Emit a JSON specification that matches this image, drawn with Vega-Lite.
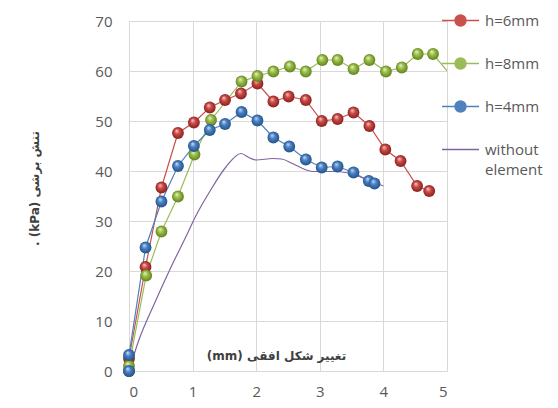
{
  "$schema": "https://vega.github.io/schema/vega-lite/v6.json",
  "width": 318,
  "height": 350,
  "autosize": {"type": "none"},
  "padding": {"left": 129, "top": 21, "right": 111, "bottom": 37},
  "background": "white",
  "config": {
    "view": {"stroke": null},
    "font": "Open Sans",
    "axis": {
      "grid": true,
      "gridColor": "#d9d9d9",
      "gridWidth": 1,
      "ticks": false,
      "labelFont": "Open Sans",
      "labelFontSize": 15,
      "labelColor": "#595959",
      "titleFont": "DejaVu Sans",
      "titleFontSize": 12,
      "titleFontWeight": "bold",
      "titleColor": "#404040"
    }
  },
  "data": {
    "values": [
      {"s": "h=6mm", "i": 0, "x": 0, "y": 0},
      {"s": "h=6mm", "i": 1, "x": 0, "y": 2.5},
      {"s": "h=6mm", "i": 2, "x": 0.26, "y": 20.8},
      {"s": "h=6mm", "i": 3, "x": 0.51, "y": 36.7},
      {"s": "h=6mm", "i": 4, "x": 0.77, "y": 47.6},
      {"s": "h=6mm", "i": 5, "x": 1.02, "y": 49.7},
      {"s": "h=6mm", "i": 6, "x": 1.27, "y": 52.7},
      {"s": "h=6mm", "i": 7, "x": 1.51, "y": 54.2},
      {"s": "h=6mm", "i": 8, "x": 1.76, "y": 55.5},
      {"s": "h=6mm", "i": 9, "x": 2.02, "y": 57.5},
      {"s": "h=6mm", "i": 10, "x": 2.27, "y": 53.9},
      {"s": "h=6mm", "i": 11, "x": 2.51, "y": 54.9},
      {"s": "h=6mm", "i": 12, "x": 2.78, "y": 54.2},
      {"s": "h=6mm", "i": 13, "x": 3.03, "y": 50.0},
      {"s": "h=6mm", "i": 14, "x": 3.28, "y": 50.4},
      {"s": "h=6mm", "i": 15, "x": 3.53, "y": 51.7},
      {"s": "h=6mm", "i": 16, "x": 3.78, "y": 49.0},
      {"s": "h=6mm", "i": 17, "x": 4.03, "y": 44.3},
      {"s": "h=6mm", "i": 18, "x": 4.27, "y": 42.0},
      {"s": "h=6mm", "i": 19, "x": 4.53, "y": 37.0},
      {"s": "h=6mm", "i": 20, "x": 4.72, "y": 36.0},
      {"s": "h=8mm", "i": 0, "x": 0, "y": 0},
      {"s": "h=8mm", "i": 1, "x": 0, "y": 1.0},
      {"s": "h=8mm", "i": 2, "x": 0.27, "y": 19.1},
      {"s": "h=8mm", "i": 3, "x": 0.51, "y": 27.9},
      {"s": "h=8mm", "i": 4, "x": 0.77, "y": 34.9},
      {"s": "h=8mm", "i": 5, "x": 1.03, "y": 43.3},
      {"s": "h=8mm", "i": 6, "x": 1.29, "y": 50.2},
      {"s": "h=8mm", "i": 7, "x": 1.77, "y": 57.9},
      {"s": "h=8mm", "i": 8, "x": 2.02, "y": 59.0},
      {"s": "h=8mm", "i": 9, "x": 2.27, "y": 59.9},
      {"s": "h=8mm", "i": 10, "x": 2.53, "y": 60.9},
      {"s": "h=8mm", "i": 11, "x": 2.78, "y": 59.9},
      {"s": "h=8mm", "i": 12, "x": 3.04, "y": 62.2},
      {"s": "h=8mm", "i": 13, "x": 3.28, "y": 62.2},
      {"s": "h=8mm", "i": 14, "x": 3.53, "y": 60.4},
      {"s": "h=8mm", "i": 15, "x": 3.78, "y": 62.2},
      {"s": "h=8mm", "i": 16, "x": 4.04, "y": 59.9},
      {"s": "h=8mm", "i": 17, "x": 4.29, "y": 60.7},
      {"s": "h=8mm", "i": 18, "x": 4.54, "y": 63.4},
      {"s": "h=8mm", "i": 19, "x": 4.78, "y": 63.4},
      {"s": "h=8mm", "i": 20, "x": 5.2, "y": 57.0},
      {"s": "h=4mm", "i": 0, "x": 0, "y": 0},
      {"s": "h=4mm", "i": 1, "x": 0, "y": 3.2},
      {"s": "h=4mm", "i": 2, "x": 0.26, "y": 24.7},
      {"s": "h=4mm", "i": 3, "x": 0.51, "y": 33.9},
      {"s": "h=4mm", "i": 4, "x": 0.77, "y": 41.0},
      {"s": "h=4mm", "i": 5, "x": 1.02, "y": 45.0},
      {"s": "h=4mm", "i": 6, "x": 1.27, "y": 48.2},
      {"s": "h=4mm", "i": 7, "x": 1.51, "y": 49.4},
      {"s": "h=4mm", "i": 8, "x": 1.77, "y": 51.8},
      {"s": "h=4mm", "i": 9, "x": 2.02, "y": 50.1},
      {"s": "h=4mm", "i": 10, "x": 2.27, "y": 46.7},
      {"s": "h=4mm", "i": 11, "x": 2.52, "y": 44.9},
      {"s": "h=4mm", "i": 12, "x": 2.78, "y": 42.3},
      {"s": "h=4mm", "i": 13, "x": 3.03, "y": 40.7},
      {"s": "h=4mm", "i": 14, "x": 3.28, "y": 40.9},
      {"s": "h=4mm", "i": 15, "x": 3.53, "y": 39.7},
      {"s": "h=4mm", "i": 16, "x": 3.77, "y": 38.0},
      {"s": "h=4mm", "i": 17, "x": 3.86, "y": 37.5},
      {"s": "without element", "i": 0, "x": 0, "y": 0},
      {"s": "without element", "i": 1, "x": 0.15, "y": 6.0},
      {"s": "without element", "i": 2, "x": 0.4, "y": 13.5},
      {"s": "without element", "i": 3, "x": 0.65, "y": 20.5},
      {"s": "without element", "i": 4, "x": 0.9, "y": 27.0},
      {"s": "without element", "i": 5, "x": 1.05, "y": 31.0},
      {"s": "without element", "i": 6, "x": 1.27, "y": 35.9},
      {"s": "without element", "i": 7, "x": 1.53, "y": 40.9},
      {"s": "without element", "i": 8, "x": 1.76, "y": 43.5},
      {"s": "without element", "i": 9, "x": 1.9, "y": 42.6},
      {"s": "without element", "i": 10, "x": 2.0, "y": 42.2},
      {"s": "without element", "i": 11, "x": 2.26, "y": 42.5},
      {"s": "without element", "i": 12, "x": 2.4, "y": 42.4},
      {"s": "without element", "i": 13, "x": 2.57, "y": 41.5},
      {"s": "without element", "i": 14, "x": 2.75, "y": 40.4},
      {"s": "without element", "i": 15, "x": 2.9, "y": 39.9},
      {"s": "without element", "i": 16, "x": 3.2, "y": 39.9},
      {"s": "without element", "i": 17, "x": 3.45, "y": 39.6},
      {"s": "without element", "i": 18, "x": 3.62, "y": 38.9},
      {"s": "without element", "i": 19, "x": 3.8, "y": 38.0},
      {"s": "without element", "i": 20, "x": 4.0, "y": 37.0}
    ]
  },
  "encoding": {
    "x": {
      "field": "x",
      "type": "quantitative",
      "scale": {"domain": [0, 5], "nice": false},
      "axis": {
        "values": [0, 1, 2, 3, 4, 5],
        "domain": true,
        "domainColor": "#d9d9d9",
        "labelPadding": 13,
        "title": "(mm) تغییر شکل افقی",
        "titleX": 147,
        "titleY": -16,
        "titleAlign": "center",
        "titleBaseline": "middle"
      }
    },
    "y": {
      "field": "y",
      "type": "quantitative",
      "scale": {"domain": [0, 70], "nice": false},
      "axis": {
        "values": [0, 10, 20, 30, 40, 50, 60, 70],
        "domain": false,
        "labelPadding": 17,
        "title": ". (kPa) تنش برشی",
        "titleAngle": -90,
        "titleX": -95,
        "titleY": 167,
        "titleAlign": "center",
        "titleBaseline": "middle"
      }
    }
  },
  "layer": [
    {
      "transform": [{"filter": "datum.s != 'without element'"}],
      "mark": {"type": "line", "strokeWidth": 1.2, "clip": true},
      "encoding": {
        "color": {
          "field": "s",
          "type": "nominal",
          "scale": {
            "domain": ["h=6mm", "h=8mm", "h=4mm", "without element"],
            "range": ["#c9504c", "#9bbb59", "#4f81bd", "#8064a2"]
          },
          "legend": {
            "title": null,
            "orient": "none",
            "legendX": 312,
            "legendY": -20,
            "symbolSize": 1369,
            "symbolType": "M-1,0H1M-0.3,0A0.3,0.3,0,1,0,0.3,0A0.3,0.3,0,1,0,-0.3,0Z",
            "symbolStrokeWidth": 1.3,
            "labelFont": "Open Sans",
            "labelFontSize": 15,
            "labelColor": "#595959",
            "labelOffset": 5,
            "labelLimit": 200,
            "rowPadding": 15,
            "labelExpr": "datum.label == 'without element' ? ['without', 'element'] : datum.label",
            "encode": {
              "symbols": {
                "update": {
                  "shape": {"signal": "datum.value == 'without element' ? 'M-1,0H1' : 'M-1,0H1M-0.3,0A0.3,0.3,0,1,0,0.3,0A0.3,0.3,0,1,0,-0.3,0Z'"},
                  "fill": {"signal": "datum.value == 'without element' ? 'transparent' : scale('color', datum.value)"},
                  "stroke": {"signal": "scale('color', datum.value)"},
                  "opacity": {"value": 1}
                }
              },
              "labels": {
                "update": {
                  "lineHeight": {"value": 20}
                }
              }
            }
          }
        },
        "order": {"field": "i", "type": "quantitative"}
      }
    },
    {
      "transform": [{"filter": "datum.s == 'without element'"}],
      "mark": {"type": "line", "strokeWidth": 1.2, "interpolate": "monotone"},
      "encoding": {
        "color": {"field": "s", "type": "nominal"},
        "order": {"field": "i", "type": "quantitative"}
      }
    },
    {
      "transform": [{"filter": "datum.s == 'h=6mm'"}],
      "mark": {
        "type": "circle",
        "size": 140,
        "opacity": 1,
        "strokeWidth": 0,
        "fill": {
          "gradient": "radial",
          "x1": 0.38, "y1": 0.3, "r1": 0,
          "x2": 0.5, "y2": 0.5, "r2": 0.55,
          "stops": [
            {"offset": 0, "color": "#f7d0ce"},
            {"offset": 0.4, "color": "#cc4a46"},
            {"offset": 1, "color": "#7e1d1a"}
          ]
        }
      }
    },
    {
      "transform": [{"filter": "datum.s == 'h=8mm' && datum.x <= 5"}],
      "mark": {
        "type": "circle",
        "size": 140,
        "opacity": 1,
        "strokeWidth": 0,
        "fill": {
          "gradient": "radial",
          "x1": 0.38, "y1": 0.3, "r1": 0,
          "x2": 0.5, "y2": 0.5, "r2": 0.55,
          "stops": [
            {"offset": 0, "color": "#eaf3d3"},
            {"offset": 0.4, "color": "#9cc048"},
            {"offset": 1, "color": "#5a7a1c"}
          ]
        }
      }
    },
    {
      "transform": [{"filter": "datum.s == 'h=4mm'"}],
      "mark": {
        "type": "circle",
        "size": 140,
        "opacity": 1,
        "strokeWidth": 0,
        "fill": {
          "gradient": "radial",
          "x1": 0.38, "y1": 0.3, "r1": 0,
          "x2": 0.5, "y2": 0.5, "r2": 0.55,
          "stops": [
            {"offset": 0, "color": "#cfe0f5"},
            {"offset": 0.4, "color": "#4a82c6"},
            {"offset": 1, "color": "#1f4d80"}
          ]
        }
      }
    }
  ]
}
